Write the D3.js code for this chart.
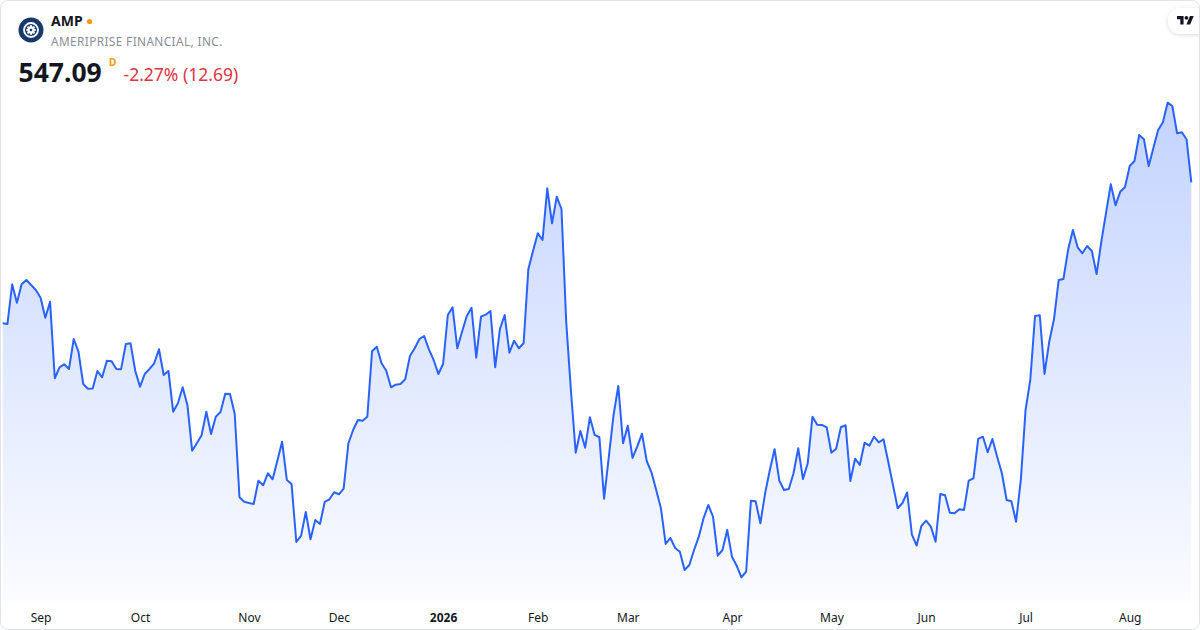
<!DOCTYPE html>
<html>
<head>
<meta charset="utf-8">
<script src="https://cdn.jsdelivr.net/npm/d3@7"></script>
<style>
  html, body { margin: 0; padding: 0; background: #fff; }
  #chart { width: 1200px; height: 630px; }
  svg { display: block; font-family: 'Noto Sans', sans-serif; }
</style>
</head>
<body>
<div id="chart"></div>
<script>
const symbol = 'AMP'
const companyName = 'AMERIPRISE FINANCIAL, INC.'
const lastPrice = '547.09'
const interval = 'D'
const changeText = '-2.27% (12.69)'

// trading calendar: first session and exchange holidays in the range
const firstSession = '2025-08-20'
const holidays = [
  '2025-09-01', '2025-11-27', '2025-12-25', '2026-01-01', '2026-01-19',
  '2026-02-16', '2026-04-03', '2026-05-25', '2026-06-19', '2026-07-03'
]

// daily closes
const closes = [
  505.49, 505.28, 516.99, 511.56, 516.99, 518.26, 516.79, 515.31, 513.04, 507.14,
  511.86, 489.26, 492.50, 493.39, 492.00, 500.85, 497.11, 487.57, 486.19, 486.25,
  491.41, 489.55, 494.45, 494.27, 492.00, 491.95, 499.38, 499.58, 491.41, 486.78,
  490.53, 492.00, 493.68, 497.81, 490.23, 491.41, 479.40, 481.88, 486.60, 481.38,
  467.89, 470.08, 472.44, 479.40, 472.82, 477.93, 479.31, 484.71, 484.62, 478.72,
  454.14, 452.84, 452.46, 452.17, 459.04, 457.68, 461.22, 459.45, 464.94, 470.55,
  459.25, 458.07, 440.95, 442.72, 449.81, 441.75, 447.45, 446.27, 452.76, 453.55,
  455.62, 455.03, 456.68, 470.08, 474.00, 476.95, 476.75, 477.93, 497.22, 498.58,
  493.68, 491.50, 486.60, 487.37, 487.57, 488.96, 495.84, 498.11, 500.85, 501.74,
  497.81, 494.66, 490.53, 493.48, 507.93, 510.21, 498.11, 503.01, 507.64, 510.09,
  495.33, 507.43, 508.02, 509.11, 492.50, 503.80, 507.93, 496.81, 500.35, 498.11,
  499.58, 521.42, 526.91, 532.04, 530.06, 545.32, 534.99, 542.84, 539.21, 505.87,
  485.51, 467.30, 473.71, 468.78, 477.75, 472.53, 471.85, 453.73, 466.12, 478.43,
  486.98, 470.08, 475.27, 465.74, 469.07, 472.91, 464.85, 461.52, 456.30, 450.90,
  440.36, 442.13, 439.18, 438.09, 432.69, 434.17, 438.59, 442.52, 447.95, 451.87,
  448.42, 436.91, 438.59, 444.49, 436.62, 433.96, 430.54, 432.19, 453.14, 452.96,
  446.47, 455.32, 462.20, 468.31, 459.04, 456.30, 456.59, 461.22, 468.60, 459.54,
  464.18, 477.93, 475.57, 475.50, 474.80, 467.30, 468.48, 474.80, 475.39, 458.95,
  465.53, 463.67, 470.25, 469.37, 472.02, 470.37, 471.26, 464.65, 457.77, 450.90,
  452.46, 455.56, 443.11, 439.92, 445.68, 447.24, 445.47, 441.04, 455.12, 454.73,
  449.60, 449.42, 450.60, 450.40, 459.04, 459.75, 471.35, 472.02, 467.42, 471.35,
  466.12, 461.22, 453.35, 452.96, 446.94, 459.25, 479.90, 488.76, 507.64, 507.85,
  490.53, 500.06, 506.67, 518.26, 518.56, 527.32, 533.02, 527.91, 526.14, 528.29,
  526.82, 520.03, 529.56, 538.12, 546.50, 540.30, 544.32, 545.70, 551.90, 553.38,
  561.05, 559.78, 551.90, 557.30, 562.52, 564.79, 570.58, 569.60, 561.55, 561.84,
  559.78, 547.09
]

const monthLabels = ['Sep', 'Oct', 'Nov', 'Dec', '2026', 'Feb', 'Mar', 'Apr', 'May', 'Jun', 'Jul', 'Aug']
const boldLabels = ['2026']

const width = 1200
const height = 630
const paneBottom = 601

let svg = null
let x = null
let y = null
let sessions = []

const buildSessions = () => {
  const fmt = d3.utcFormat('%Y-%m-%d')
  let day = new Date(firstSession + 'T00:00:00Z')
  while (sessions.length < closes.length) {
    const wd = day.getUTCDay()
    const key = fmt(day)
    if (wd !== 0 && wd !== 6 && !holidays.includes(key)) sessions.push(key)
    day = d3.utcDay.offset(day, 1)
  }
}

const createSVG = () => {
  svg = d3.select('#chart')
    .append('svg')
    .attr('width', width)
    .attr('height', height)
    .attr('viewBox', `0 0 ${width} ${height}`)

  const defs = svg.append('defs')

  defs.append('clipPath')
    .attr('id', 'frame-clip')
    .append('rect')
    .attr('x', 1).attr('y', 1)
    .attr('width', width - 2).attr('height', height - 2)
    .attr('rx', 7)

  const grad = defs.append('linearGradient')
    .attr('id', 'area-fill')
    .attr('gradientUnits', 'userSpaceOnUse')
    .attr('x1', 0).attr('y1', 100)
    .attr('x2', 0).attr('y2', paneBottom)
  grad.append('stop').attr('offset', 0).attr('stop-color', '#2962ff').attr('stop-opacity', 0.28)
  grad.append('stop').attr('offset', 1).attr('stop-color', '#2962ff').attr('stop-opacity', 0.02)

  const shadow = defs.append('filter')
    .attr('id', 'pill-shadow')
    .attr('x', '-50%').attr('y', '-50%')
    .attr('width', '200%').attr('height', '200%')
  shadow.append('feDropShadow')
    .attr('dx', 0).attr('dy', 1)
    .attr('stdDeviation', 2)
    .attr('flood-color', '#000')
    .attr('flood-opacity', 0.15)
}

const createScales = () => {
  x = d3.scalePoint()
    .domain(sessions)
    .range([2.7, 1191.3])

  y = d3.scaleLinear()
    .domain([430, 575])
    .range([579.1, 87.7])
}

const createSeries = () => {
  const g = svg.append('g').attr('clip-path', 'url(#frame-clip)')

  const area = d3.area()
    .x((d, i) => x(sessions[i]))
    .y0(paneBottom)
    .y1(d => y(d))

  const line = d3.line()
    .x((d, i) => x(sessions[i]))
    .y(d => y(d))

  g.append('path')
    .datum(closes)
    .attr('d', area)
    .attr('fill', 'url(#area-fill)')

  g.append('path')
    .datum(closes)
    .attr('d', line)
    .attr('fill', 'none')
    .attr('stroke', '#2962ff')
    .attr('stroke-width', 2)
    .attr('stroke-linejoin', 'round')
}

const createAxis = () => {
  // first session of each month
  const monthStarts = sessions.filter((d, i) => i > 0 && d.slice(5, 7) !== sessions[i - 1].slice(5, 7))

  const axis = d3.axisBottom(x)
    .tickValues(monthStarts)
    .tickSize(0)
    .tickPadding(12)
    .tickFormat((d, i) => monthLabels[i])

  const g = svg.append('g')
    .attr('transform', `translate(0, ${paneBottom})`)
    .call(axis)

  g.select('.domain').remove()
  g.selectAll('text')
    .attr('font-family', "'Noto Sans', sans-serif")
    .attr('font-size', 12)
    .attr('fill', '#131722')
    .attr('font-weight', d => boldLabels.includes(monthLabels[monthStarts.indexOf(d)]) ? 700 : 400)
}

const createHeader = () => {
  const head = svg.append('g')

  // company logo
  const logo = head.append('g').attr('transform', 'translate(31, 30)')
  logo.append('circle').attr('r', 12.5).attr('fill', '#173a6a')
  logo.append('circle').attr('r', 7).attr('fill', 'none').attr('stroke', '#fff').attr('stroke-width', 1.8)
  d3.range(8).forEach(k => {
    const a = k * Math.PI / 4
    logo.append('circle')
      .attr('cx', Math.cos(a) * 3.6).attr('cy', Math.sin(a) * 3.6)
      .attr('r', 1.3).attr('fill', '#fff')
  })
  logo.append('circle').attr('r', 3.2).attr('fill', '#fff')
  logo.append('circle').attr('r', 1.3).attr('fill', '#173a6a')

  head.append('text')
    .attr('x', 51).attr('y', 26)
    .attr('font-size', 14).attr('font-weight', 700)
    .attr('fill', '#131722')
    .text(symbol)

  head.append('circle')
    .attr('cx', 89.6).attr('cy', 21.5).attr('r', 2.6)
    .attr('fill', '#ff9800')

  head.append('text')
    .attr('x', 51).attr('y', 45.5)
    .attr('font-size', 11.8)
    .attr('letter-spacing', 0.4)
    .attr('fill', '#8a8d96')
    .text(companyName)

  head.append('text')
    .attr('x', 18.5).attr('y', 81.5)
    .attr('font-size', 26.5).attr('font-weight', 700)
    .attr('fill', '#131722')
    .text(lastPrice)

  head.append('text')
    .attr('x', 109).attr('y', 65.5)
    .attr('font-size', 10).attr('font-weight', 700)
    .attr('fill', '#ff9800')
    .text(interval)

  head.append('text')
    .attr('x', 123.5).attr('y', 81)
    .attr('font-size', 17.5)
    .attr('fill', '#e03445')
    .text(changeText)
}

const createBrand = () => {
  const g = svg.append('g').attr('clip-path', 'url(#frame-clip)')

  g.append('rect')
    .attr('x', 1168).attr('y', 8)
    .attr('width', 50).attr('height', 26)
    .attr('rx', 13)
    .attr('fill', '#fff')
    .attr('filter', 'url(#pill-shadow)')

  const mark = g.append('g').attr('transform', 'translate(1177, 14.1) scale(0.47)')
  mark.append('path')
    .attr('d', 'M14 22H7V11H0V4h14v18zM28 22h-8l7.5-18h8L28 22z')
    .attr('fill', '#131722')
  mark.append('circle')
    .attr('cx', 20).attr('cy', 8).attr('r', 4)
    .attr('fill', '#131722')
}

const createFrame = () => {
  svg.append('rect')
    .attr('x', 0.5).attr('y', 0.5)
    .attr('width', width - 1).attr('height', height - 1)
    .attr('rx', 7.5)
    .attr('fill', 'none')
    .attr('stroke', '#e0e3eb')
}

const init = () => {
  buildSessions()
  createSVG()
  createScales()
  createSeries()
  createAxis()
  createHeader()
  createBrand()
  createFrame()
}

init()
</script>
</body>
</html>
